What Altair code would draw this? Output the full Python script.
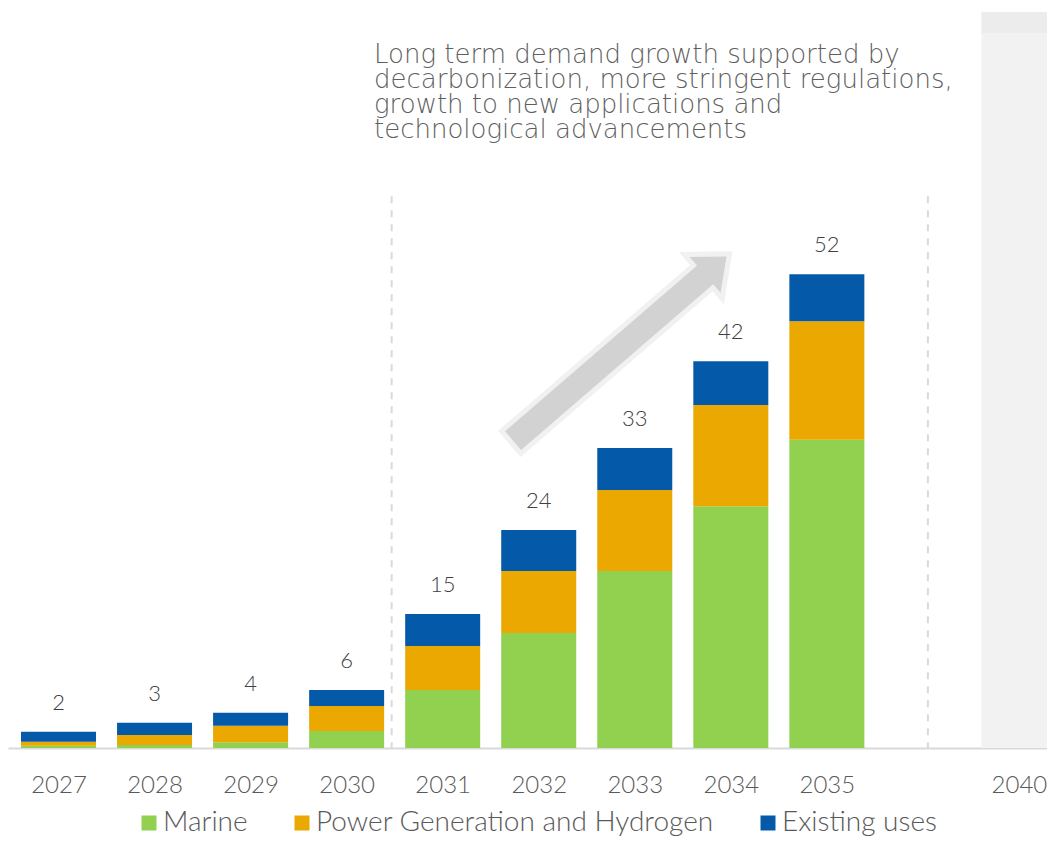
import json
import altair as alt
import pandas as pd

# ---- data ----
years = ["2027", "2028", "2029", "2030", "2031", "2032", "2033", "2034", "2035"]
marine = [0.25, 0.33, 0.62, 1.86, 6.36, 12.6, 19.4, 26.5, 33.8]
power = [0.44, 1.10, 1.82, 2.74, 4.82, 6.8, 8.9, 11.1, 13.0]
existing = [1.10, 1.35, 1.43, 1.75, 3.51, 4.5, 4.6, 4.8, 5.15]
total_labels = ["2", "3", "4", "6", "15", "24", "33", "42", "52"]
axis_slots = years + [" ", "2040"]
series = ["Marine", "Power Generation and Hydrogen", "Existing uses"]
colors = ["#92D050", "#EAA800", "#045AA8"]
note = [
    "Long term demand growth supported by",
    "decarbonization, more stringent regulations,",
    "growth to new applications and",
    "technological advancements",
]
arrow_slot = "2033"
arrow_mid = [43.8]
rule_top = [60.5]
panel_slot = "2040"

pos = {s: i for i, s in enumerate(axis_slots)}

# ---- tables built from the arrays ----
rows = []
for i, y in enumerate(years):
    for rank, (name, vals) in enumerate(zip(series, [marine, power, existing])):
        rows.append({"pos": pos[y], "series": name, "value": vals[i], "rank": rank})
df = pd.DataFrame(rows)
totals = pd.DataFrame({
    "pos": [pos[y] for y in years],
    "total": [m + p + e for m, p, e in zip(marine, power, existing)],
    "label": total_labels,
})

W, H = 1039, 736
YMAX = 80.7
BAR_W = 75

xscale = alt.Scale(domain=[-0.5258, 10.292], nice=False, zero=False, padding=0)
xaxis = alt.Axis(title=None, labelAngle=0, ticks=False, tickSize=0, grid=False, labelPadding=25,
                 values=[pos[s] for s in axis_slots if s.strip()],
                 labelExpr=json.dumps(axis_slots) + "[datum.value]",
                 labelFont="Lato", labelFontSize=24, labelFontWeight=300, labelColor="#595959",
                 domainColor="#D9D9D9", domainWidth=2)
yscale = alt.Scale(domain=[0, YMAX], nice=False, zero=True, padding=0)


def X(field="pos:Q"):
    return alt.X(field, scale=xscale, axis=xaxis)


panel_df = pd.DataFrame({"pos": [pos[panel_slot]]})
panel = alt.Chart(panel_df).mark_bar(color="#F2F2F2", width=BAR_W).encode(
    x=X(), y=alt.value(0), y2=alt.value(H))
panel_top = alt.Chart(panel_df).mark_bar(color="#ECECEC", width=BAR_W).encode(
    x=X(), y=alt.value(0), y2=alt.value(21))

bars = alt.Chart(df).mark_bar(width=BAR_W, orient="vertical").encode(
    x=X(),
    y=alt.Y("value:Q", stack="zero", scale=yscale, axis=None),
    color=alt.Color("series:N", scale=alt.Scale(domain=series, range=colors),
                    legend=alt.Legend(title=None)),
    order=alt.Order("rank:Q", sort="ascending"),
)

labels = alt.Chart(totals).mark_text(
    baseline="alphabetic", dy=-22, font="Lato", fontSize=22, fontWeight=300, color="#404040"
).encode(x=X(), y=alt.Y("total:Q", scale=yscale, axis=None), text="label:N")

# dashed separators: between 2030 and 2031, and in the gap before 2040
rule_a = alt.Chart(pd.DataFrame({"pos": [pos["2031"] - 0.5], "top": rule_top, "bot": [0]})).mark_rule(
    strokeDash=[7, 7], color="#D9D9D9", strokeWidth=2, xOffset=-3
).encode(x=X(), y=alt.Y("top:Q", scale=yscale, axis=None), y2="bot:Q")

rule_b = alt.Chart(pd.DataFrame({"pos": [pos[" "]], "top": rule_top, "bot": [0]})).mark_rule(
    strokeDash=[7, 7], color="#D9D9D9", strokeWidth=2, xOffset=5
).encode(x=X(), y=alt.Y("top:Q", scale=yscale, axis=None), y2="bot:Q")

arrow_path = "M -1 -0.087 L 0.8 -0.087 L 0.8 -0.168 L 1 0 L 0.8 0.168 L 0.8 0.087 L -1 0.087 Z"
arrow_df = pd.DataFrame({"pos": [pos[arrow_slot]], "v": arrow_mid})
arrow_outline = alt.Chart(arrow_df).mark_point(
    shape=arrow_path, size=79500, angle=319.2, filled=True, fill="#F1F1F1",
    stroke="#F1F1F1", strokeWidth=10, opacity=1, xOffset=-15
).encode(x=X(), y=alt.Y("v:Q", scale=yscale, axis=None))
arrow = alt.Chart(arrow_df).mark_point(
    shape=arrow_path, size=79500, angle=319.2, filled=True, fill="#D2D2D2",
    strokeWidth=0, opacity=1, xOffset=-15
).encode(x=X(), y=alt.Y("v:Q", scale=yscale, axis=None))

annot = alt.Chart(pd.DataFrame({"pos": [0]})).mark_text(
    align="left", baseline="alphabetic", font="DejaVu Sans", fontSize=26, fontWeight=300,
    color="#5F5F5F", lineHeight=25
).encode(x=alt.value(366), y=alt.value(51.3), text=alt.value(note))

chart = alt.layer(
    panel, panel_top, rule_a, rule_b, arrow_outline, arrow, bars, labels, annot
).properties(
    width=W, height=H,
    autosize=alt.AutoSizeParams(type="none"),
    padding={"left": 0, "top": 4, "right": 0, "bottom": 92},
).configure_view(stroke=None).configure_legend(
    orient="none", legendX=127, legendY=797, direction="horizontal",
    symbolType="square", symbolSize=225, symbolStrokeWidth=0,
    labelFont="Lato", labelFontSize=28, labelFontWeight=300, labelColor="#595959",
    columnPadding=40, labelOffset=0, labelLimit=1000, padding=0,
)

chart.save("out.html", embed_options={"renderer": "svg", "actions": False})
